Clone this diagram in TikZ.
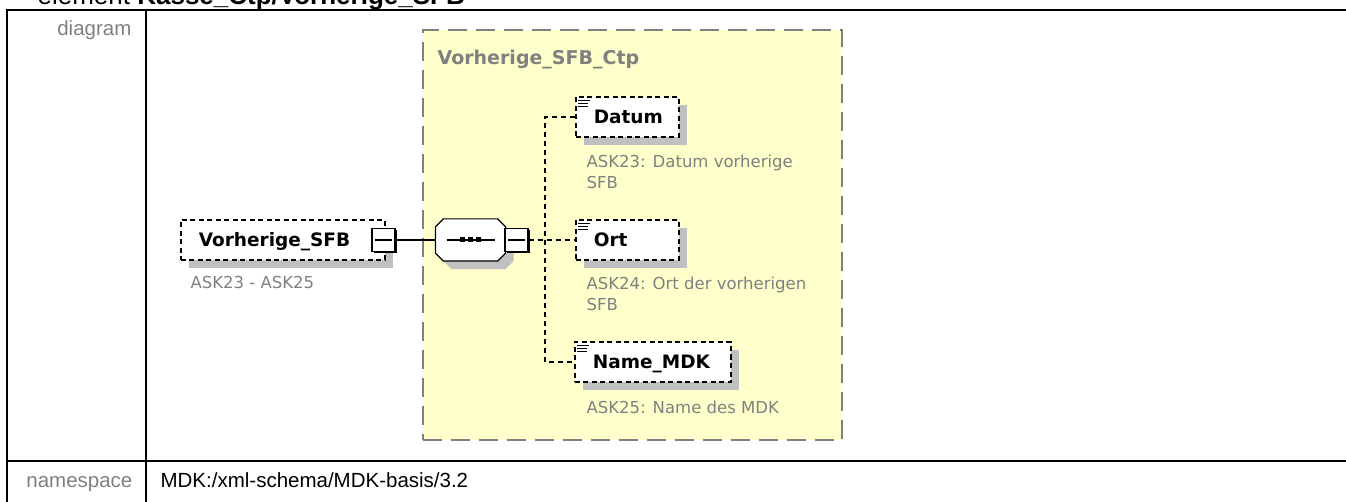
\documentclass[tikz,border=0pt]{standalone}
\usepackage{fontspec}
\setmainfont{Liberation Sans}
\newfontfamily\xsdfont{DejaVu Sans}
\usetikzlibrary{shadows}

\definecolor{ctpfill}{RGB}{255,255,204}
\definecolor{ctpline}{RGB}{128,128,128}
\definecolor{annogray}{RGB}{128,128,128}
\definecolor{shadegray}{RGB}{192,192,192}
\definecolor{labelgray}{RGB}{128,128,128}

\newcommand{\elemfont}{\xsdfont\bfseries\fontsize{18.5}{20}\selectfont}
\newcommand{\annofont}{\xsdfont\fontsize{16.5}{21}\selectfont}
% little documentation mark in the corner of an element
\newcommand{\docmark}[1]{%
  \foreach \dy/\len in {4/12,7/10,10/10}
    \draw[line width=0.8pt] ([shift={(3,\dy)}]#1.north west) -- ++(\len,0);}

\begin{document}
\begin{tikzpicture}[x=1pt, y=-1pt, line width=1.2pt,
    elem/.style={draw, dash pattern=on 5pt off 3.5pt, line width=1.6pt, fill=white,
      anchor=west, inner xsep=18pt, inner ysep=0pt, minimum height=40pt,
      text width=#1, align=left, font=\elemfont, text height=13.5pt, text depth=0pt,
      drop shadow={shadow xshift=8pt, shadow yshift=-8pt, fill=shadegray, opacity=1}},
    minus/.style={draw, solid, line width=1.2pt, fill=white, minimum size=23pt, inner sep=0pt,
      drop shadow={shadow xshift=2pt, shadow yshift=-2pt, fill=black, opacity=1},
      path picture={\draw[line width=1.2pt] ([xshift=3pt]path picture bounding box.west)
        -- ([xshift=-3pt]path picture bounding box.east);}},
    seqbox/.style={minimum width=69pt, minimum height=41pt, inner sep=0pt},
    octagon/.style={draw, line width=1.2pt, fill=white,
      drop shadow={shadow xshift=8pt, shadow yshift=-8pt, fill=shadegray, opacity=1}},
    ctpbox/.style={draw=ctpline, fill=ctpfill, dash pattern=on 19pt off 9pt, line width=2pt,
      minimum width=419pt, minimum height=410pt, inner sep=0pt},
    anno/.style={anchor=base west, inner sep=0pt, align=left, font=\annofont, text=annogray},
    rowlabel/.style={anchor=base east, inner sep=0pt, font=\fontsize{20.5}{24}\selectfont, text=labelgray},
    link/.style={dash pattern=on 5pt off 4pt, line width=1.4pt}]

    % Frame
    \path[use as bounding box] (0,0) rectangle (1346,502);
    \clip (0,0) rectangle (1346,502);
    \node[anchor=base west, inner sep=0pt, font=\fontsize{26}{30}\selectfont] (title) at (37,5)
        {element \textbf{Kasse\_Ctp/Vorherige\_SFB}};
    \draw[line width=2pt] (1346,10) -- (7,10) -- (7,502);
    \draw[line width=2pt] (146,10) -- (146,502);
    \draw[line width=2pt] (7,461) -- (1346,461);
    \node[rowlabel] (diag) at (132,36) {diagram};
    \node[rowlabel] (ns) at (133,487) {namespace};
    \node[anchor=base west, inner sep=0pt, font=\fontsize{20.5}{24}\selectfont] (nsval) at (160,487)
        {MDK:/xml-schema/MDK-basis/3.2};

    % Complex type
    \node[ctpbox] (ctp) at (632.5,235) {};
    \node[anchor=base west, inner sep=0pt, font=\xsdfont\bfseries\fontsize{19}{22}\selectfont,
        text=ctpline] (ctpname) at (437,65) {Vorherige\_SFB\_Ctp};

    % Element
    \node[elem=168pt] (sfb) at (180,240) {Vorherige\_SFB};
    \node[minus] (sfbminus) at (383.5,240) {};
    \node[anno] (sfbanno) at (190,289) {ASK23 - ASK25};

    % Sequence
    \node[seqbox] (seq) at (470.5,240) {};
    \draw[octagon] ([xshift=8pt]seq.north west) -- ([xshift=-8pt]seq.north east)
        -- ([yshift=-8pt]seq.north east) -- ([yshift=8pt]seq.south east)
        -- ([xshift=-8pt]seq.south east) -- ([xshift=8pt]seq.south west)
        -- ([yshift=8pt]seq.south west) -- ([yshift=-8pt]seq.north west) -- cycle;
    \node[minus] (seqminus) at (516.5,240) {};
    \draw (seq.center) ++(-24,0) -- ++(48,0);
    \foreach \dx in {-8,0,8}
        \fill ([xshift=\dx pt]seq.center) +(-2.5,-2.5) rectangle +(2.5,2.5);

    % Children
    \node[elem=67pt] (datum) at (575,117) {Datum};
    \node[elem=67pt] (ort) at (575,240) {Ort};
    \node[elem=120pt] (namemdk) at (574,362) {Name\_MDK};
    \docmark{datum}
    \docmark{ort}
    \docmark{namemdk}
    \node[anno] (datumanno) at (586,189) {ASK23: Datum vorherige\\SFB};
    \node[anno] (ortanno) at (586,311) {ASK24: Ort der vorherigen\\SFB};
    \node[anno] (nameanno) at (586,413) {ASK25: Name des MDK};

    % Connectors
    \coordinate (fork) at (545,240);
    \draw (sfbminus.east) -- (seq.west);
    \draw[link] (seqminus.east) -- (ort.west);
    \draw[link] (datum.west) -| (fork) |- (namemdk.west);
\end{tikzpicture}
\end{document}
